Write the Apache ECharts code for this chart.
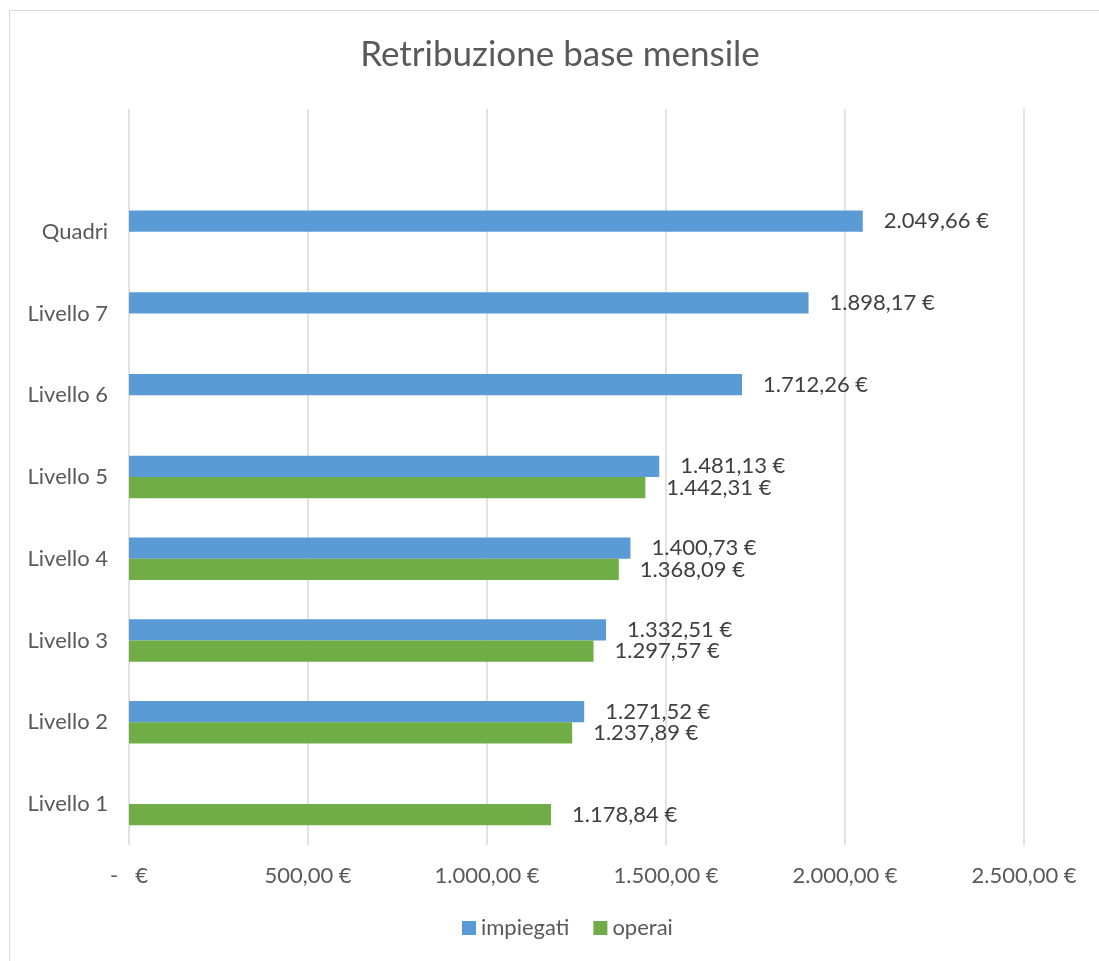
<!DOCTYPE html>
<html>
<head>
<meta charset="utf-8">
<script src="https://cdn.jsdelivr.net/npm/echarts@6/dist/echarts.min.js"></script>
<style>
  html, body { margin: 0; padding: 0; background: #fff; }
  #main { width: 1099px; height: 961px; }
</style>
</head>
<body>
<div id="main"></div>
<script>
  // categorie dal basso verso l'alto (l'ultima è vuota come nel foglio)
  var livelli = ['Livello 1', 'Livello 2', 'Livello 3', 'Livello 4', 'Livello 5', 'Livello 6', 'Livello 7', 'Quadri', '']
  var impiegati = [null, 1271.52, 1332.51, 1400.73, 1481.13, 1712.26, 1898.17, 2049.66, null]
  var operai = [1178.84, 1237.89, 1297.57, 1368.09, 1442.31, null, null, null, null]
  var xTicks = [0, 500, 1000, 1500, 2000, 2500]

  // formato italiano: 1.234,56
  function euro (v) {
    var parts = Number(v).toFixed(2).split('.')
    parts[0] = parts[0].replace(/\B(?=(\d{3})+(?!\d))/g, '.')
    return parts[0] + ',' + parts[1] + ' €'
  }

  var myChart = echarts.init(document.getElementById('main'))
  var font = 'Lato, "Open Sans", sans-serif'

  myChart.setOption({
    animation: false,
    graphic: [{
      type: 'rect',
      shape: { x: 9.5, y: 10.5, width: 1200, height: 1000 },
      style: { fill: 'none', stroke: '#d9d9d9', lineWidth: 1 },
      silent: true
    }],
    title: {
      text: 'Retribuzione base mensile',
      left: 555,
      top: 32,
      textAlign: 'center',
      textStyle: { fontFamily: font, fontSize: 35, fontWeight: 'normal', color: '#595959' }
    },
    legend: {
      data: ['impiegati', 'operai'],
      bottom: 17,
      left: 457,
      itemWidth: 14,
      itemHeight: 14,
      itemGap: 24,
      icon: 'rect',
      textStyle: { fontFamily: font, fontSize: 22, color: '#595959' }
    },
    grid: { left: 129, right: 75, top: 109, bottom: 116, containLabel: false },
    xAxis: {
      type: 'value',
      min: 0,
      max: xTicks[xTicks.length - 1],
      interval: 500,
      axisLine: { show: false },
      axisTick: { show: false },
      splitLine: { lineStyle: { color: '#d9d9d9', width: 1.5 } },
      axisLabel: {
        margin: 20,
        fontFamily: font,
        fontSize: 22,
        color: '#595959',
        formatter: function (v) { return v === 0 ? '-   €' : euro(v) }
      }
    },
    yAxis: {
      type: 'category',
      data: livelli,
      axisLine: { show: false },
      axisTick: { show: false },
      axisLabel: { margin: 21, fontFamily: font, fontSize: 22, color: '#595959' }
    },
    series: [
      {
        name: 'impiegati',
        type: 'bar',
        data: impiegati,
        barGap: '0%',
        barCategoryGap: '48%',
        itemStyle: { color: '#5b9bd5' },
        label: {
          show: true, position: 'right', distance: 21,
          fontFamily: font, fontSize: 22, color: '#404040',
          formatter: function (p) { return euro(p.value) }
        }
      },
      {
        name: 'operai',
        type: 'bar',
        data: operai,
        barGap: '0%',
        barCategoryGap: '48%',
        itemStyle: { color: '#70ad47' },
        label: {
          show: true, position: 'right', distance: 21,
          fontFamily: font, fontSize: 22, color: '#404040',
          formatter: function (p) { return euro(p.value) }
        }
      }
    ]
  })
</script>
</body>
</html>
